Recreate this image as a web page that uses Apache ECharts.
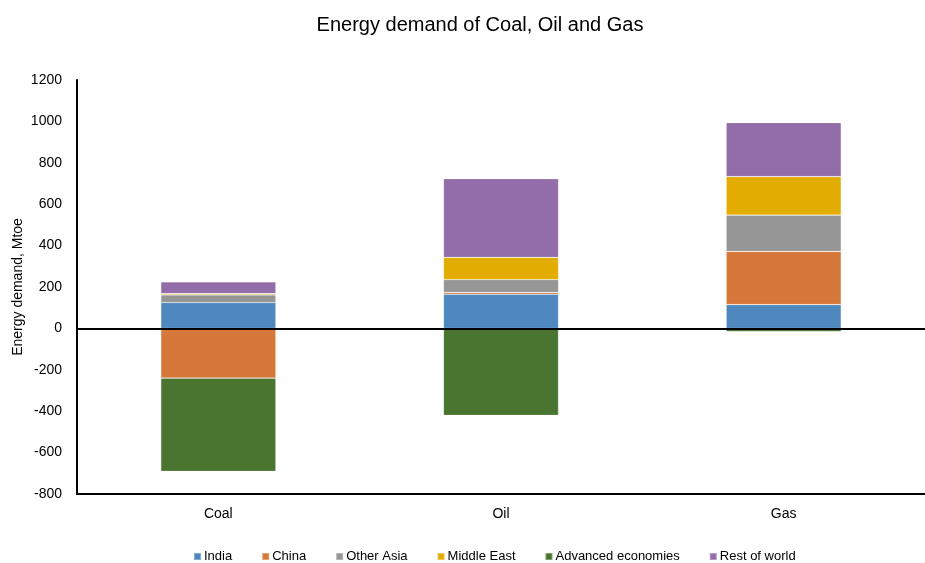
<!DOCTYPE html>
<html>
<head>
<meta charset="utf-8">
<title>Energy demand of Coal, Oil and Gas</title>
<script src="https://cdn.jsdelivr.net/npm/echarts@6/dist/echarts.min.js"></script>
<style>
  html, body { margin: 0; padding: 0; background: #ffffff; }
  #chart { width: 925px; height: 563px; }
</style>
</head>
<body>
<div id="chart"></div>
<script>
// Fuel categories on the x axis
const fuels = ['Coal', 'Oil', 'Gas'];

// Change in energy demand by region, Mtoe (Coal, Oil, Gas)
const india = [125, 165, 115];
const china = [-240, 8, 257];
const otherAsia = [37, 63, 175];
const middleEast = [6, 107, 186];
const advancedEconomies = [-450, -420, -15];
const restOfWorld = [57, 380, 261];

// Value axis range and step
const yMin = -800;
const yMax = 1200;
const yStep = 200;

const regions = [
  { name: 'India', data: india, color: '#4F88BE' },
  { name: 'China', data: china, color: '#D6783A' },
  { name: 'Other Asia', data: otherAsia, color: '#969696' },
  { name: 'Middle East', data: middleEast, color: '#E2AC00' },
  { name: 'Advanced economies', data: advancedEconomies, color: '#4A7530' },
  { name: 'Rest of world', data: restOfWorld, color: '#926DAA' }
];

const font = 'Liberation Sans, Arial, sans-serif';

const series = regions.map((r, i) => {
  const s = {
    name: r.name,
    type: 'bar',
    stack: 'demand',
    data: r.data,
    barWidth: 115,
    itemStyle: {
      color: r.color,
      borderColor: 'rgba(255,255,255,0.3)',
      borderWidth: 0.6
    },
    emphasis: { disabled: true }
  };
  if (i === 0) {
    // Zero baseline drawn across the plot
    s.markLine = {
      silent: true,
      symbol: 'none',
      label: { show: false },
      lineStyle: { color: '#000000', width: 2, type: 'solid' },
      data: [{ yAxis: 0 }],
      z: 10
    };
  }
  return s;
});

const chart = echarts.init(document.getElementById('chart'), null, { renderer: 'canvas' });

chart.setOption({
  backgroundColor: '#ffffff',
  animation: false,
  textStyle: { fontFamily: font },
  title: {
    text: 'Energy demand of Coal, Oil and Gas',
    left: 475,
    top: 10,
    textAlign: 'center',
    textStyle: { fontFamily: font, fontSize: 20, fontWeight: 'normal', color: '#000000' }
  },
  legend: {
    data: regions.map(r => r.name),
    left: 188,
    top: 545,
    itemWidth: 7,
    itemHeight: 7,
    itemGap: 29,
    icon: 'rect',
    textStyle: { fontFamily: font, fontSize: 13, color: '#000000', padding: [0, 0, 0, -2] }
  },
  grid: { left: 77, right: 0, top: 80, bottom: 69, containLabel: false, outerBoundsMode: 'none' },
  xAxis: [
    {
      type: 'category',
      data: fuels,
      position: 'bottom',
      axisLine: { onZero: false, lineStyle: { color: '#000000', width: 2 } },
      axisTick: { show: false },
      axisLabel: { color: '#000000', fontSize: 14, margin: 13, fontFamily: font },
      splitLine: { show: false }
    },
    {
      type: 'category',
      data: fuels,
      position: 'top',
      axisLine: { lineStyle: { color: '#111111', width: 1.5 } },
      axisTick: { show: false },
      axisLabel: { show: false },
      splitLine: { show: false }
    }
  ],
  yAxis: {
    type: 'value',
    min: yMin,
    max: yMax,
    interval: yStep,
    name: 'Energy demand, Mtoe',
    nameLocation: 'middle',
    nameGap: 52,
    nameMoveOverlap: false,
    nameTextStyle: { fontFamily: font, fontSize: 14, color: '#000000' },
    axisLine: { show: true, lineStyle: { color: '#000000', width: 2 } },
    axisTick: { show: false },
    axisLabel: {
      color: '#000000',
      fontSize: 14,
      margin: 15,
      fontFamily: font,
      formatter: v => String(v)
    },
    splitLine: { show: false }
  },
  series: series
});
</script>
</body>
</html>
